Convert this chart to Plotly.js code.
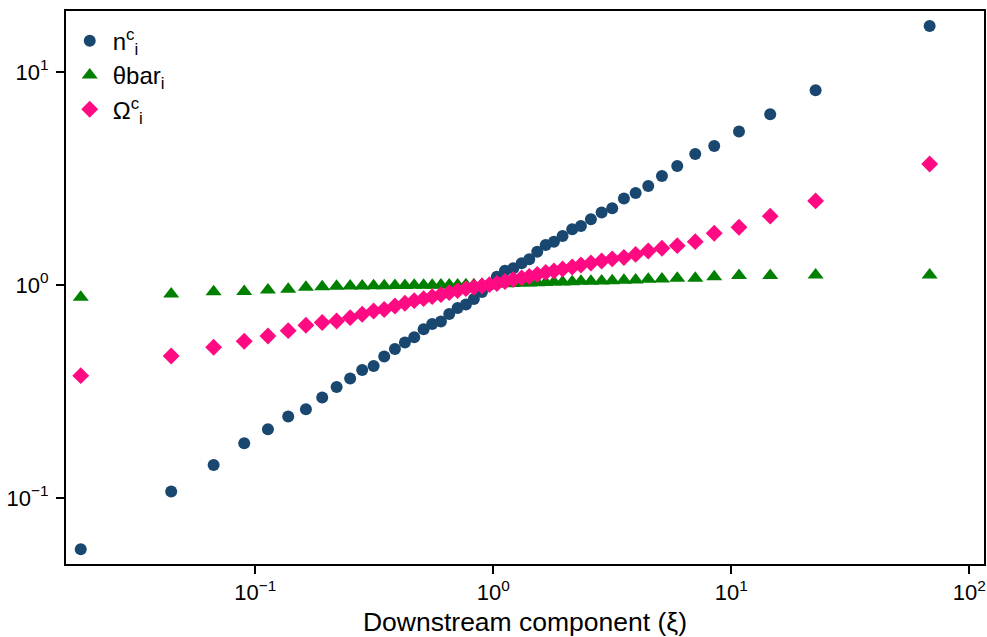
<!DOCTYPE html>
<html>
<head>
<meta charset="utf-8">
<script src="https://cdn.plot.ly/plotly-3.0.1.min.js"></script>
<style>html,body{margin:0;padding:0;background:#fff;}#chart{width:987px;height:637px;}</style>
</head>
<body>
<div id="chart"></div>
<script>
// Downstream component (xi) values
const xi = [0.01849, 0.04436, 0.06687, 0.08991, 0.1131, 0.1376, 0.1633, 0.1912, 0.2198, 0.2506,
            0.2815, 0.3144, 0.3483, 0.3864, 0.4256, 0.4657, 0.5100, 0.5541, 0.6030, 0.6534,
            0.7087, 0.7679, 0.8295, 0.8964, 0.9638, 1.036, 1.120, 1.214, 1.316, 1.417,
            1.531, 1.661, 1.799, 1.956, 2.147, 2.336, 2.573, 2.854, 3.162, 3.541,
            3.966, 4.480, 5.115, 5.932, 7.061, 8.483, 10.78, 14.58, 22.62, 68.18];
// n^c_i
const nc = [0.0574, 0.1073, 0.1428, 0.1805, 0.2101, 0.2413, 0.2609, 0.2963, 0.3320, 0.3639,
            0.3990, 0.4167, 0.4617, 0.5006, 0.5370, 0.5680, 0.6195, 0.6561, 0.6741, 0.7309,
            0.7798, 0.8100, 0.8596, 0.9271, 1.000, 1.094, 1.167, 1.198, 1.264, 1.320,
            1.433, 1.541, 1.597, 1.698, 1.826, 1.892, 2.034, 2.186, 2.292, 2.547,
            2.704, 2.916, 3.250, 3.620, 4.121, 4.493, 5.246, 6.324, 8.196, 16.44];
// thetabar_i
const thetabar = [0.8756, 0.9073, 0.9301, 0.9320, 0.9474, 0.9546, 0.9754, 0.9818, 0.9860, 0.9892,
                  0.9892, 0.9914, 0.9925, 0.9935, 0.9946, 0.9957, 0.9968, 0.9978, 0.9989, 1.000,
                  1.000, 1.001, 1.002, 1.004, 1.005, 1.009, 1.013, 1.016, 1.020, 1.022,
                  1.025, 1.028, 1.031, 1.033, 1.036, 1.040, 1.042, 1.044, 1.047, 1.052,
                  1.055, 1.063, 1.067, 1.075, 1.076, 1.094, 1.106, 1.106, 1.114, 1.114];
// Omega^c_i
const omegac = [0.3752, 0.4642, 0.5100, 0.5441, 0.5761, 0.6102, 0.6469, 0.6668, 0.6776, 0.7022,
                0.7284, 0.7551, 0.7674, 0.7969, 0.8205, 0.8439, 0.8623, 0.8813, 0.9004, 0.9202,
                0.9402, 0.9608, 0.9754, 0.9892, 1.003, 1.016, 1.038, 1.061, 1.079, 1.096,
                1.120, 1.145, 1.163, 1.189, 1.215, 1.241, 1.268, 1.296, 1.325, 1.346,
                1.391, 1.444, 1.487, 1.529, 1.597, 1.748, 1.866, 2.104, 2.480, 3.699];

const seriesNames = ['n<sup>c</sup><sub>i</sub>', 'θbar<sub>i</sub>', 'Ω<sup>c</sup><sub>i</sub>'];
const xTickVals = [0.1, 1, 10, 100];
const xTickText = ['10<sup>−1</sup>', '10<sup>0</sup>', '10<sup>1</sup>', '10<sup>2</sup>'];
const yTickVals = [0.1, 1, 10];
const yTickText = ['10<sup>−1</sup>', '10<sup>0</sup>', '10<sup>1</sup>'];
const xTitle = 'Downstream component (ξ)';

const FONT = '"Liberation Sans", Arial, Helvetica, sans-serif';

const traces = [
  {x: xi, y: nc, name: seriesNames[0], type: 'scatter', mode: 'markers',
   marker: {symbol: 'circle', size: 12, color: '#1a476f'}},
  {x: xi, y: thetabar, name: seriesNames[1], type: 'scatter', mode: 'markers',
   marker: {symbol: 'triangle-up', size: 14, color: '#008000'}},
  {x: xi, y: omegac, name: seriesNames[2], type: 'scatter', mode: 'markers',
   marker: {symbol: 'diamond', size: 13, color: '#ff0a82'}}
];

const axisCommon = {
  type: 'log', showgrid: false, zeroline: false,
  showline: true, linecolor: '#000', linewidth: 2, mirror: true,
  ticks: 'outside', ticklen: 8, tickwidth: 1.5, tickcolor: '#000',
  tickfont: {family: FONT, size: 22, color: '#000'}
};

const layout = {
  width: 987, height: 637,
  margin: {l: 66, r: 3, t: 11, b: 73},
  paper_bgcolor: '#fff', plot_bgcolor: '#fff',
  font: {family: FONT, color: '#000'},
  showlegend: true,
  legend: {x: 0.0008, y: 0.986, xanchor: 'left', yanchor: 'top',
           bgcolor: 'rgba(0,0,0,0)', borderwidth: 0, itemwidth: 36,
           font: {family: FONT, size: 24, color: '#000'}, itemsizing: 'trace'},
  xaxis: Object.assign({}, axisCommon, {
    range: [-1.795, 2.062], tickmode: 'array', tickvals: xTickVals, ticktext: xTickText,
    title: {text: xTitle, font: {family: FONT, size: 26.5, color: '#000'}, standoff: 12}
  }),
  yaxis: Object.assign({}, axisCommon, {
    range: [-1.31, 1.286], tickmode: 'array', tickvals: yTickVals, ticktext: yTickText,
    ticklabelstandoff: 3
  })
};

Plotly.newPlot('chart', traces, layout, {displayModeBar: false, staticPlot: true});
</script>
</body>
</html>
